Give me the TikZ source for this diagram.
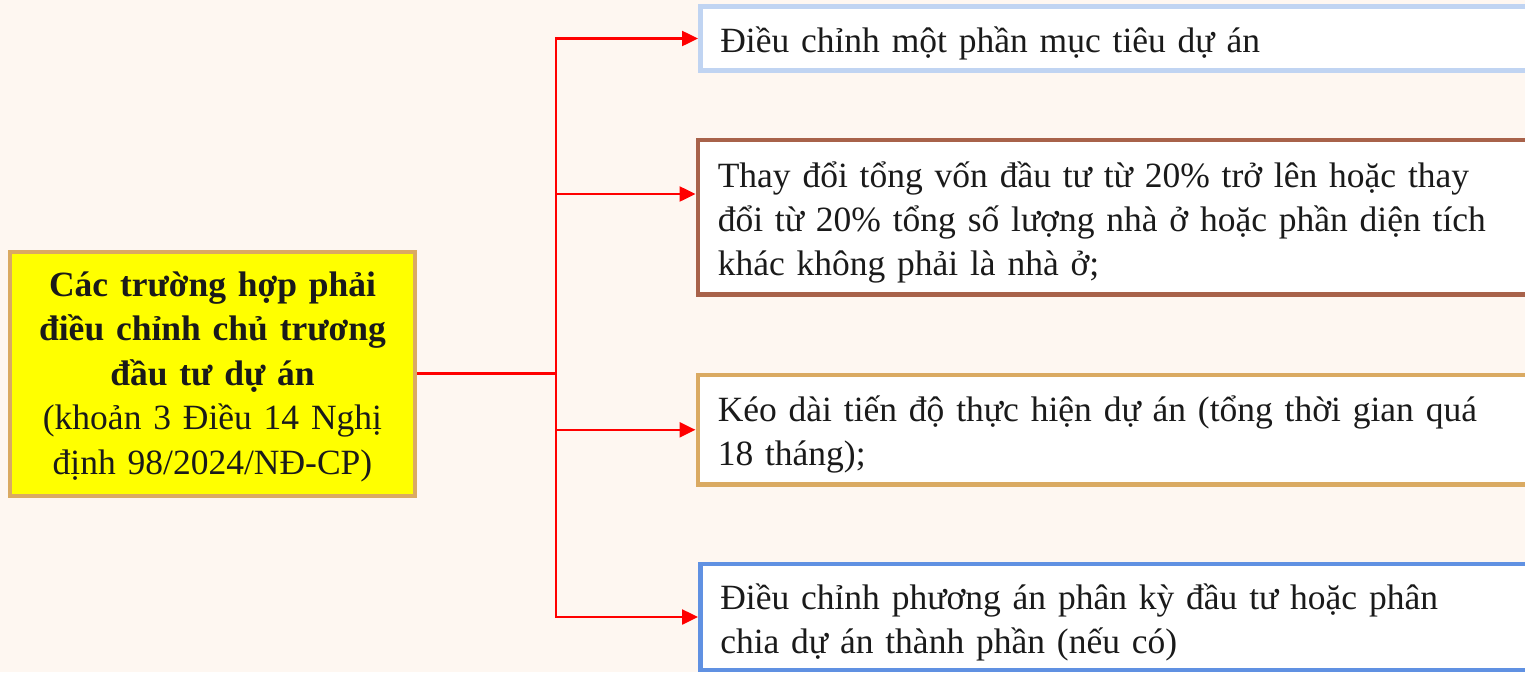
\documentclass[tikz,border=0pt]{standalone}
\usepackage{fontspec}
\setmainfont{Liberation Serif}
\usetikzlibrary{arrows.meta}
\definecolor{bgcream}{RGB}{254,247,241}
\definecolor{tanline}{RGB}{218,170,98}
\definecolor{paleblue}{RGB}{192,212,242}
\definecolor{brownline}{RGB}{168,98,74}
\definecolor{midblue}{RGB}{96,145,226}
\definecolor{inkdark}{RGB}{26,26,26}
\definecolor{pureyellow}{RGB}{255,255,0}
\definecolor{purered}{RGB}{255,0,0}
% stack of lines (column type #1), set #2 lower without changing the box size
\newcommand\loweredlines[3]{\raisebox{-#2}[\height][\depth]{\begin{tabular}{@{}#1@{}}#3\end{tabular}}}
\tikzset{
  rootbox/.style={draw=tanline, line width=4pt, fill=pureyellow, minimum width=405pt,
    minimum height=244pt, text width=400pt, align=center, inner sep=0pt,
    text=inkdark, font=\fontsize{35.5}{44.5}\selectfont},
  itembox/.style={line width=4.5pt, fill=white, anchor=west, minimum width=900pt,
    text width=860pt, align=left, inner xsep=20pt, inner ysep=0pt,
    text=inkdark, font=\fontsize{35.5}{44}\selectfont},
  link/.style={draw=purered, line width=2.5pt},
  linkarrow/.style={link, -{Triangle[length=16pt,width=15pt]}}
}
\begin{document}
\begin{tikzpicture}[x=1pt,y=-1pt]
  \clip (0,0) rectangle (1525,672);
  \fill[bgcream] (0,0) rectangle (1525,672);

  % left summary box
  \node[rootbox] (root) at (212.5,373.5)
    {\loweredlines{c}{3pt}{\textbf{Các trường hợp phải}\\\textbf{điều chỉnh chủ trương}\\\textbf{đầu tư dự án}\\(khoản 3 Điều 14 Nghị\\định 98/2024/NĐ-CP)}};

  % right-hand cases
  \node[itembox, draw=paleblue, minimum height=64pt] (b1) at (698,38.5)
    {\loweredlines{l}{5pt}{Điều chỉnh một phần mục tiêu dự án}};
  \node[itembox, draw=brownline, minimum height=154.5pt] (b2) at (695.5,217.3)
    {\loweredlines{l}{5pt}{Thay đổi tổng vốn đầu tư từ 20\% trở lên hoặc thay\\đổi từ 20\% tổng số lượng nhà ở hoặc phần diện tích\\khác không phải là nhà ở;}};
  \node[itembox, draw=tanline, minimum height=109.5pt] (b3) at (695.5,429.8)
    {\loweredlines{l}{5pt}{Kéo dài tiến độ thực hiện dự án (tổng thời gian quá\\18 tháng);}};
  \node[itembox, draw=midblue, minimum height=106pt] (b4) at (698,617)
    {\loweredlines{l}{6pt}{Điều chỉnh phương án phân kỳ đầu tư hoặc phân\\chia dự án thành phần (nếu có)}};

  % connectors
  \coordinate (fork) at (556,373.5);
  \draw[link] (root.east) -- (fork);
  \draw[linkarrow] (fork) |- (b1.west);
  \draw[linkarrow] (fork) |- ([yshift=23.3pt]b2.west);
  \draw[linkarrow] (fork) |- (b3.west);
  \draw[linkarrow] (fork) |- (b4.west);
\end{tikzpicture}
\end{document}
